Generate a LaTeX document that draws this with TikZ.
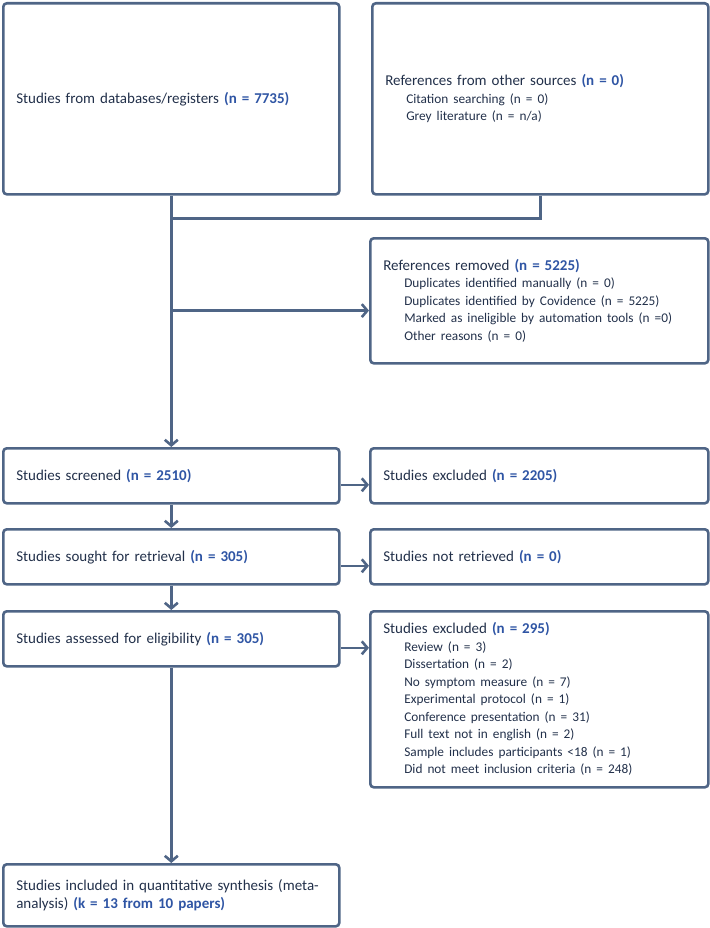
\documentclass[tikz,border=0pt]{standalone}
\usepackage{fontspec}
\setmainfont{Carlito}
\usetikzlibrary{arrows.meta,calc}
\definecolor{linec}{HTML}{4F6586}
\definecolor{textc}{HTML}{22304A}
\definecolor{bluec}{HTML}{2F55A4}
\newcommand\mainsz{\fontsize{15}{17.5}\selectfont}
\newcommand\subsz{\fontsize{13.3}{17}\selectfont}
\newcommand\nb[1]{\textcolor{bluec}{\textbf{#1}}}
\newcommand\subln[1]{\\\hspace*{21pt}{\subsz #1}}
\begin{document}
\begin{tikzpicture}[x=1pt,y=-1pt,
  box/.style={draw=linec, line width=2.6pt, rounded corners=3.5pt, anchor=north west,
    inner xsep=13pt, inner ysep=0pt, align=left, text=textc, font=\mainsz},
  lbox/.style={box, minimum width=336pt, text width=310pt},
  rbox/.style={box, minimum width=338pt, text width=312pt},
  ln/.style={draw=linec, line width=2.6pt},
  arr/.style={ln, -{Straight Barb[length=5.5pt,width=13pt]}}]
\useasboundingbox (0,0) rectangle (709,928);

\node[lbox, minimum height=191pt] (db) at (2,2)
  {Studies from databases/registers \nb{(n = 7735)}};
\node[box, minimum width=336pt, text width=310pt, minimum height=191pt] (other) at (371,2)
  {References from other sources \nb{(n = 0)}%
   \subln{Citation searching (n = 0)}%
   \subln{Grey literature (n = n/a)}};
\node[rbox, minimum height=125pt] (removed) at (369,237)
  {References removed \nb{(n = 5225)}%
   \subln{Duplicates identified manually (n = 0)}%
   \subln{Duplicates identified by Covidence (n = 5225)}%
   \subln{Marked as ineligible by automation tools (n =0)}%
   \subln{Other reasons (n = 0)}};
\node[lbox, minimum height=55pt] (screened) at (2,447)
  {Studies screened \nb{(n = 2510)}};
\node[rbox, minimum height=55pt] (excl1) at (369,447)
  {Studies excluded \nb{(n = 2205)}};
\node[lbox, minimum height=55pt] (sought) at (2,528)
  {Studies sought for retrieval \nb{(n = 305)}};
\node[rbox, minimum height=55pt] (notret) at (369,528)
  {Studies not retrieved \nb{(n = 0)}};
\node[lbox, minimum height=55pt] (assessed) at (2,610)
  {Studies assessed for eligibility \nb{(n = 305)}};
\node[rbox, minimum height=176pt] (excl2) at (369,610)
  {Studies excluded \nb{(n = 295)}%
   \subln{Review (n = 3)}%
   \subln{Dissertation (n = 2)}%
   \subln{No symptom measure (n = 7)}%
   \subln{Experimental protocol (n = 1)}%
   \subln{Conference presentation (n = 31)}%
   \subln{Full text not in english (n = 2)}%
   \subln{Sample includes participants <18 (n = 1)}%
   \subln{Did not meet inclusion criteria (n = 248)}};
\node[lbox, minimum height=62pt] (included) at (2,863)
  {Studies included in quantitative synthesis (meta-\\analysis) \nb{(k = 13 from 10 papers)}};

% connectors
\coordinate (j1) at ($(db.south)+(0,23)$);
\coordinate (j2) at ($(db.south)+(0,115)$);
\draw[arr] (db.south) -- (screened.north);
\draw[ln] (other.south) |- (j1);
\draw[arr] (j2) -- (j2 -| removed.west);

\coordinate (a1) at ($(screened.east)+(0,9)$);
\coordinate (a2) at ($(sought.east)+(0,9)$);
\coordinate (a3) at ($(assessed.east)+(0,9)$);
\draw[arr] (a1) -- (a1 -| excl1.west);
\draw[arr] (a2) -- (a2 -| notret.west);
\draw[arr] (a3) -- (a3 -| excl2.west);

\draw[arr] (screened.south) -- (sought.north);
\draw[arr] (sought.south) -- (assessed.north);
\draw[arr] (assessed.south) -- (included.north);
\end{tikzpicture}
\end{document}
